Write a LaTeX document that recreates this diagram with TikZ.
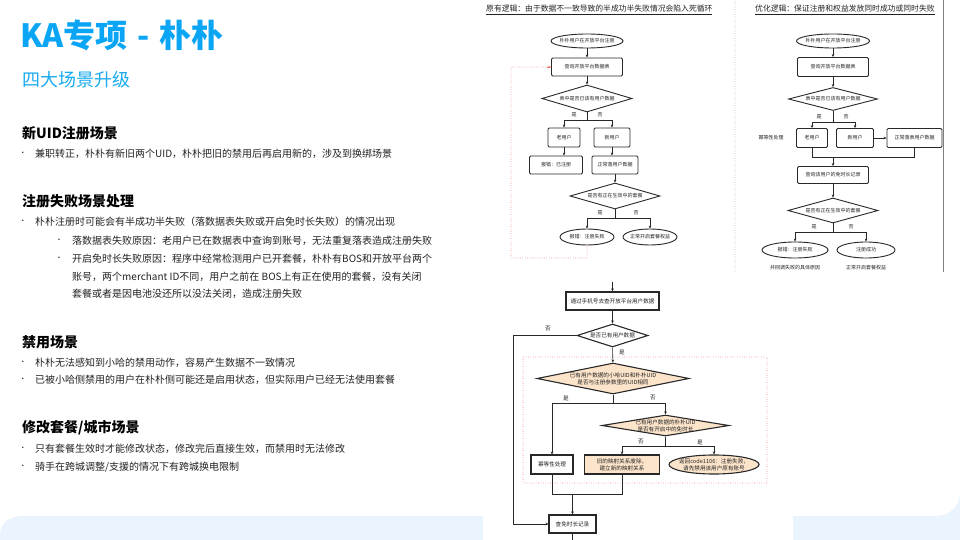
\documentclass[tikz,border=0pt]{standalone}
\usepackage{fontspec}
\setmainfont{Noto Sans CJK SC}
\usetikzlibrary{shapes.geometric,arrows.meta,decorations.markings}
\definecolor{titleblue}{RGB}{10,165,245}
\definecolor{subblue}{RGB}{25,170,240}
\definecolor{bandblue}{RGB}{234,244,254}
\definecolor{peach}{RGB}{252,228,202}
\definecolor{txt}{RGB}{35,35,35}
\definecolor{fline}{RGB}{40,40,40}
\definecolor{loopred}{RGB}{240,110,110}
\definecolor{sepgrey}{RGB}{175,175,175}
\tikzset{
 body/.style={anchor=west, text=txt, font=\fontsize{10}{12}\selectfont, inner sep=0pt},
 head/.style={anchor=west, text=black, font=\fontsize{14}{16}\selectfont\bfseries, inner sep=0pt},
 bul/.style={anchor=center, text=txt, font=\fontsize{7}{8}\selectfont, inner sep=0pt},
 fb/.style={draw=fline, line width=0.9pt, rounded corners=1.2pt, fill=white, text=txt, font=\fontsize{5}{6}\selectfont, inner sep=0.5pt, align=center},
 fe/.style={ellipse, draw=fline, line width=0.9pt, fill=white, text=txt, font=\fontsize{5}{6}\selectfont, inner xsep=-4pt, inner ysep=0pt, align=center},
 fd/.style={diamond, draw=fline, line width=0.9pt, fill=white, text=txt, font=\fontsize{5}{6}\selectfont, inner sep=0pt, aspect=3.3, align=center},
 gb/.style={draw=fline, line width=1.1pt, fill=white, text=txt, font=\fontsize{5.6}{7}\selectfont, inner sep=0.5pt, align=center},
 lbl/.style={text=txt, font=\fontsize{5}{6}\selectfont, inner sep=0pt},
 glbl/.style={text=txt, font=\fontsize{5.6}{6.5}\selectfont, inner sep=0pt},
 ctitle/.style={anchor=west, text=txt, font=\fontsize{7.8}{9}\selectfont, inner sep=0pt},
 arr/.style={-{Stealth[length=3pt,width=2.6pt]}, line width=0.55pt, draw=fline},
 ln/.style={line width=0.55pt, draw=fline},
 dotline/.style={decorate, decoration={markings, mark=between positions 0 and 1 step 2.4pt with {\fill[#1] (0,0) circle (0.4pt);}}},
}
\begin{document}
\begin{tikzpicture}[x=1pt,y=-1pt]
\useasboundingbox (0,0) rectangle (960,540);
\fill[white] (0,0) rectangle (960,540);
% background band
\fill[bandblue] (0,540) -- (0,536) .. controls (0,524) and (8,516) .. (24,516) -- (936,516) .. controls (950,516) and (960,506) .. (960,492) -- (960,540) -- cycle;
\fill[white] (483,282) rectangle (793,540);

% ---------- left text ----------
\node[anchor=west, text=titleblue, font=\fontsize{32}{36}\selectfont\bfseries, inner sep=0pt] (title) at (20,35) {KA专项\hspace{10pt}-\hspace{10pt}朴朴};
\node[anchor=west, text=subblue, font=\fontsize{18}{20}\selectfont, inner sep=0pt] (sub) at (22,80) {四大场景升级};

\node[head] (h1) at (22,133) {新UID注册场景};
\node[bul] (d1) at (23,154) {•};
\node[body] (p1) at (35,154) {兼职转正，朴朴有新旧两个UID，朴朴把旧的禁用后再启用新的，涉及到换绑场景};

\node[head] (h2) at (22,201) {注册失败场景处理};
\node[bul] (d2) at (23,222) {•};
\node[body] (p2) at (35,222) {朴朴注册时可能会有半成功半失败（落数据表失败或开启免时长失败）的情况出现};
\node[bul] (d3) at (59,241) {•};
\node[body] (p3) at (72,241) {落数据表失败原因：老用户已在数据表中查询到账号，无法重复落表造成注册失败};
\node[bul] (d4) at (59,259) {•};
\node[body] (p4) at (72,259) {开启免时长失败原因：程序中经常检测用户已开套餐，朴朴有BOS和开放平台两个};
\node[body] (p5) at (72,277) {账号，两个merchant ID不同，用户之前在 BOS上有正在使用的套餐，没有关闭};
\node[body] (p6) at (72,294) {套餐或者是因电池没还所以没法关闭，造成注册失败};

\node[head] (h3) at (22,342) {禁用场景};
\node[bul] (d5) at (23,363) {•};
\node[body] (p7) at (35,363) {朴朴无法感知到小哈的禁用动作，容易产生数据不一致情况};
\node[bul] (d6) at (23,380) {•};
\node[body] (p8) at (35,380) {已被小哈侧禁用的用户在朴朴侧可能还是启用状态，但实际用户已经无法使用套餐};

\node[head] (h4) at (22,428) {修改套餐/城市场景};
\node[bul] (d7) at (23,449) {•};
\node[body] (p9) at (35,449) {只有套餐生效时才能修改状态，修改完后直接生效，而禁用时无法修改};
\node[bul] (d8) at (23,467) {•};
\node[body] (p10) at (35,467) {骑手在跨城调整/支援的情况下有跨城换电限制};

% ---------- separators ----------
\coordinate (s1a) at (735,0); \coordinate (s1b) at (735,272);
\path[dotline=sepgrey] (s1a) -- (s1b);
\coordinate (s2a) at (943,0); \coordinate (s2b) at (943,272);
\draw[color=gray, line width=0.6pt] (s2a) -- (s2b);

% ---------- top-left chart ----------
\node[ctitle] (t1) at (486,10) {\underline{原有逻辑：由于数据不一致导致的半成功半失败情况会陷入死循环}};
\node[fe, minimum width=72pt, minimum height=14pt] (a1) at (587,41) {朴朴用户在开放平台注册};
\node[fb, minimum width=71pt, minimum height=18pt] (a2) at (587,67) {查询开放平台数据表};
\node[fd, minimum width=90pt, minimum height=27pt] (a3) at (587,98.5) {表中是否已该有用户数据};
\node[fb, minimum width=32pt, minimum height=19pt] (a4) at (564,137.5) {老用户};
\node[fb, minimum width=36pt, minimum height=19pt] (a5) at (612,137.5) {新用户};
\node[fb, minimum width=53pt, minimum height=18pt] (a6) at (556,165) {报错：已注册};
\node[fb, minimum width=46pt, minimum height=18pt] (a7) at (615,165) {正常落用户数据};
\node[fd, minimum width=90pt, minimum height=26pt] (a8) at (615,196) {是否有正在生效中的套餐};
\node[fe, minimum width=54pt, minimum height=16pt] (a9) at (587,237) {报错：注册失败};
\node[fe, minimum width=54pt, minimum height=16pt] (a10) at (650,237) {正常开启套餐权益};
\coordinate (ab1) at (587,120);
\coordinate (ab2) at (615,218);
\coordinate (al1) at (511,258);
\draw[arr] (a1) -- (a2);
\draw[arr] (a2) -- (a3);
\draw[ln] (a3.south) -- (ab1);
\draw[arr] (ab1) -| (a4.north);
\draw[arr] (ab1) -| (a5.north);
\draw[arr] (a4.south) -- (a4.south |- a6.north);
\draw[arr] (a5.south) -- (a5.south |- a7.north);
\draw[arr] (a7) -- (a8);
\draw[ln] (a8.south) -- (ab2);
\draw[arr] (ab2) -| (a9.north);
\draw[arr] (ab2) -| (a10.north);
\path[dotline=loopred] (a9.south) |- (al1) |- (a2.west);
\draw[color=loopred, line width=0.6pt, -{Stealth[length=3pt,width=2.6pt]}] (a2.west) ++(-4,0) -- (a2.west);
\node[lbl] (la1) at (574,115) {是};
\node[lbl] (la2) at (600,115) {否};
\node[lbl] (la3) at (600,213) {是};
\node[lbl] (la4) at (636,213) {否};

% ---------- top-right chart ----------
\node[ctitle] (t2) at (755,10) {\underline{优化逻辑：保证注册和权益发放同时成功或同时失败}};
\node[fe, minimum width=73pt, minimum height=14pt] (b1) at (833,41) {朴朴用户在开放平台注册};
\node[fb, minimum width=71pt, minimum height=19pt] (b2) at (833,67) {查询开放平台数据表};
\node[fd, minimum width=89pt, minimum height=23pt] (b3) at (833,99) {表中是否已该有用户数据};
\node[fb, minimum width=31pt, minimum height=19pt] (b4) at (812,138) {老用户};
\node[fb, minimum width=37pt, minimum height=19pt] (b5) at (855,138) {新用户};
\node[lbl] (bx) at (771,138) {幂等性处理};
\node[fb, minimum width=55pt, minimum height=19pt] (b6) at (914.5,138) {正常落表用户数据};
\node[fb, minimum width=71pt, minimum height=17pt] (b7) at (833,175) {查询该用户的免时长记录};
\node[fd, minimum width=90pt, minimum height=25pt] (b8) at (833,210.5) {是否有正在生效中的套餐};
\node[fe, minimum width=66pt, minimum height=16pt] (b9) at (795,250) {报错：注册失败};
\node[fe, minimum width=58pt, minimum height=16pt] (b10) at (866,250) {注册成功};
\node[lbl] (bt1) at (795,268) {并回调失败的具体原因};
\node[lbl] (bt2) at (866,268) {正常开启套餐权益};
\coordinate (bb1) at (833,122);
\coordinate (bm) at (833,157);
\coordinate (bb2) at (833,232);
\draw[arr] (b1) -- (b2);
\draw[arr] (b2) -- (b3);
\draw[ln] (b3.south) -- (bb1);
\draw[arr] (bb1) -| (b4.north);
\draw[arr] (bb1) -| (b5.north);
\draw[arr] (b5) -- (b6);
\draw[ln] (b4.south) |- (bm);
\draw[ln] (b6.south) |- (bm);
\draw[arr] (bm) -- (b7);
\draw[arr] (b7) -- (b8);
\draw[ln] (b8.south) -- (bb2);
\draw[arr] (bb2) -| (b9.north);
\draw[arr] (bb2) -| (b10.north);
\node[lbl] (lb1) at (819,117) {是};
\node[lbl] (lb2) at (846,117) {否};
\node[lbl] (lb3) at (814,227) {是};
\node[lbl] (lb4) at (851,227) {否};

% ---------- bottom chart ----------
\coordinate (c0) at (612.5,282);
\node[gb, minimum width=93pt, minimum height=18pt] (c1) at (612.5,301) {通过手机号去查开放平台用户数据};
\node[gb, diamond, aspect=3.1, inner sep=0pt, minimum width=71pt, minimum height=23pt] (c2) at (612.5,335.5) {是否已有用户数据};
\coordinate (rb1) at (523,357); \coordinate (rb2) at (767,483);
\path[dotline=loopred] (rb1) rectangle (rb2);
\node[gb, diamond, fill=peach, aspect=4.9, inner xsep=-8pt, inner ysep=0pt, minimum width=152pt, minimum height=31pt] (c3) at (613,378.5) {已有用户数据的小哈UID和朴朴UID\\是否与注册参数里的UID相同};
\node[gb, minimum width=42pt, minimum height=19pt] (c5) at (552,464.5) {幂等性处理};
\node[gb, diamond, fill=peach, aspect=6, inner xsep=-6pt, inner ysep=-2pt, minimum width=127pt, minimum height=21pt] (c4) at (665.5,425.5) {已有用户数据的朴朴UID\\是否有开启中的免时长};
\node[gb, fill=peach, minimum width=75pt, minimum height=19pt] (c6) at (622,464.5) {旧的映射关系废除，\\建立新的映射关系};
\node[gb, ellipse, fill=peach, inner xsep=-4pt, inner ysep=0pt, minimum width=90pt, minimum height=19pt] (c7) at (714,464.5) {返回code1106：注册失败，\\请先禁用该用户原有账号};
\node[gb, minimum width=47pt, minimum height=18pt] (c9) at (572.5,524) {查免时长记录};
\coordinate (cl) at (513,335.5);
\coordinate (cb1) at (613,403);
\coordinate (cb2) at (665.5,446);
\coordinate (cm) at (572.5,494);
\coordinate (cend) at (572.5,540);
\draw[arr] (c0) -- (c1);
\draw[arr] (c1) -- (c2);
\draw[ln] (c2.west) -- (cl);
\draw[arr] (cl) |- (c9.west);
\draw[arr] (c2) -- (c3);
\draw[ln] (c3.south) -- (cb1);
\draw[arr] (cb1) -| (c5.north);
\draw[arr] (cb1) -| (c4.north);
\draw[ln] (c4.south) -- (cb2);
\draw[arr] (cb2) -| (c6.north);
\draw[arr] (cb2) -| (c7.north);
\draw[ln] (c5.south) |- (cm);
\draw[ln] (c6.south) |- (cm);
\draw[arr] (cm) -- (c9);
\draw[ln] (c9.south) -- (cend);
\node[glbl] (lc1) at (548,329) {否};
\node[glbl] (lc2) at (622,352) {是};
\node[glbl] (lc3) at (566,398) {是};
\node[glbl] (lc4) at (653,398) {否};
\node[glbl] (lc5) at (641,442) {否};
\node[glbl] (lc6) at (700,442) {是};
\end{tikzpicture}
\end{document}
